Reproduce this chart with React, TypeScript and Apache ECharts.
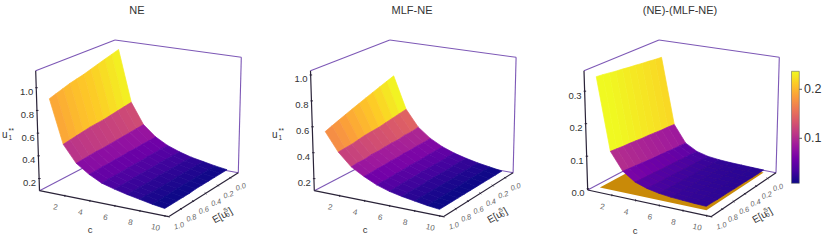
import React, { useEffect, useRef } from "react";
import * as echarts from "echarts";

const cValues = [1, 2, 3, 4, 5, 6, 7, 8, 9, 10];
const eValues = [0, 0.1, 0.2, 0.3, 0.4, 0.5, 0.6, 0.7, 0.8, 0.9, 1];
const cTicks = [2, 4, 6, 8, 10];
const eTicks = [0, 0.2, 0.4, 0.6, 0.8, 1];
const neTicks = [0.2, 0.4, 0.6, 0.8, 1.0];
const mlfTicks = [0.2, 0.4, 0.6, 0.8, 1.0];
const diffTicks = [0, 0.1, 0.2, 0.3];
const barTicks = [0.1, 0.2];

// rows: c = 1..10, columns: E[u] = 0, 0.1, ... 1
const neSurface = [
  [1.11, 1.09, 1.07, 1.05, 1.03, 1.01, 0.995, 0.98, 0.96, 0.94, 0.92],
  [0.63, 0.62, 0.61, 0.6, 0.59, 0.585, 0.58, 0.57, 0.56, 0.55, 0.54],
  [0.44, 0.435, 0.43, 0.425, 0.42, 0.415, 0.41, 0.41, 0.405, 0.4, 0.395],
  [0.345, 0.34, 0.34, 0.335, 0.335, 0.33, 0.33, 0.325, 0.325, 0.32, 0.32],
  [0.285, 0.285, 0.28, 0.28, 0.275, 0.275, 0.275, 0.27, 0.27, 0.27, 0.265],
  [0.245, 0.245, 0.245, 0.245, 0.24, 0.24, 0.24, 0.24, 0.235, 0.235, 0.235],
  [0.215, 0.215, 0.215, 0.215, 0.215, 0.215, 0.21, 0.21, 0.21, 0.21, 0.21],
  [0.195, 0.195, 0.195, 0.195, 0.195, 0.19, 0.19, 0.19, 0.19, 0.19, 0.19],
  [0.175, 0.175, 0.175, 0.175, 0.175, 0.175, 0.175, 0.17, 0.17, 0.17, 0.17],
  [0.16, 0.16, 0.16, 0.16, 0.16, 0.16, 0.155, 0.155, 0.155, 0.155, 0.155],
];
const mlfSurface = [
  [0.78, 0.76, 0.74, 0.72, 0.7, 0.68, 0.66, 0.64, 0.62, 0.6, 0.58],
  [0.52, 0.51, 0.5, 0.49, 0.48, 0.475, 0.47, 0.46, 0.45, 0.445, 0.44],
  [0.39, 0.38, 0.38, 0.37, 0.37, 0.365, 0.36, 0.36, 0.35, 0.35, 0.345],
  [0.315, 0.31, 0.31, 0.305, 0.305, 0.3, 0.3, 0.295, 0.295, 0.29, 0.29],
  [0.265, 0.26, 0.26, 0.255, 0.255, 0.255, 0.25, 0.25, 0.245, 0.245, 0.245],
  [0.23, 0.23, 0.225, 0.225, 0.225, 0.225, 0.22, 0.22, 0.22, 0.215, 0.215],
  [0.205, 0.205, 0.205, 0.2, 0.2, 0.2, 0.2, 0.195, 0.195, 0.195, 0.195],
  [0.185, 0.185, 0.185, 0.185, 0.18, 0.18, 0.18, 0.18, 0.18, 0.18, 0.18],
  [0.17, 0.17, 0.17, 0.17, 0.17, 0.165, 0.165, 0.165, 0.165, 0.165, 0.165],
  [0.155, 0.155, 0.155, 0.155, 0.155, 0.155, 0.155, 0.155, 0.155, 0.155, 0.155],
];
const diffSurface = [
  [0.325, 0.327, 0.33, 0.332, 0.335, 0.337, 0.34, 0.342, 0.345, 0.348, 0.35],
  [0.112, 0.114, 0.115, 0.117, 0.119, 0.12, 0.122, 0.124, 0.125, 0.127, 0.129],
  [0.058, 0.06, 0.061, 0.063, 0.065, 0.066, 0.068, 0.07, 0.072, 0.074, 0.076],
  [0.038, 0.039, 0.04, 0.042, 0.043, 0.044, 0.045, 0.047, 0.048, 0.049, 0.051],
  [0.029, 0.03, 0.031, 0.032, 0.033, 0.034, 0.035, 0.036, 0.037, 0.038, 0.039],
  [0.025, 0.025, 0.026, 0.027, 0.027, 0.028, 0.029, 0.029, 0.03, 0.031, 0.032],
  [0.023, 0.023, 0.024, 0.024, 0.025, 0.025, 0.026, 0.026, 0.027, 0.027, 0.028],
  [0.022, 0.022, 0.022, 0.023, 0.023, 0.024, 0.024, 0.025, 0.025, 0.025, 0.026],
  [0.021, 0.021, 0.021, 0.022, 0.022, 0.022, 0.023, 0.023, 0.024, 0.024, 0.024],
  [0.02, 0.02, 0.02, 0.021, 0.021, 0.021, 0.022, 0.022, 0.022, 0.023, 0.023],
];
const floorLevel = 0.012;

const PLASMA = ["#0d0887", "#46039f", "#7201a8", "#9c179e", "#bd3786", "#d8576b", "#ed7953", "#fb9f3a", "#fdca26", "#f0f921"];
const FONT = "'Liberation Sans', Arial, sans-serif";
const PURPLE = "#7d58b6";
const DARK = "#2a2338";

type P = [number, number];
type Panel = {
  title: string; titleX: number; values: number[][]; zTicks: number[];
  zMin: number; zMax: number; cMin: number; cMax: number; eMin: number; eMax: number;
  cLo: number; cHi: number;
  // corners, bottom then top; L: c low E high, F: c high E high, R: c high E low, B: c low E low
  bL: P; bF: P; bR: P; bB: P; tL: P; tF: P; tR: P; tB: P;
  uX: number; uY: number; cLabel: P; eLabel: P;
};

const shift = (p: P, dx: number): P => [p[0] + dx, p[1]];
const base = {
  bL: [39.5, 190.7] as P, bF: [168.5, 216.7] as P, bR: [238.3, 172.7] as P, bB: [116.5, 150.4] as P,
  tL: [35.7, 70.7] as P, tF: [164, 88] as P, tR: [241.3, 57.3] as P, tB: [115, 40] as P,
};
const panels: Panel[] = [
  {
    title: "NE", titleX: 137, values: neSurface, zTicks: neTicks, zMin: 0.093, zMax: 1.15,
    cMin: -0.03, cMax: 10.28, eMin: -0.13, eMax: 1.0, cLo: 0.16, cHi: 0.88, ...base,
    uX: 2, uY: 134, cLabel: [90, 229], eLabel: [213, 220.5],
  },
  {
    title: "MLF-NE", titleX: 412, values: mlfSurface, zTicks: mlfTicks, zMin: 0.107, zMax: 1.033,
    cMin: -0.03, cMax: 10.28, eMin: -0.13, eMax: 1.0, cLo: 0.16, cHi: 0.65,
    bL: shift(base.bL, 274.8), bF: shift(base.bF, 274.8), bR: shift(base.bR, 274.8), bB: shift(base.bB, 274.8),
    tL: shift(base.tL, 274.8), tF: shift(base.tF, 274.8), tR: shift(base.tR, 274.8), tB: shift(base.tB, 274.8),
    uX: 272, uY: 134, cLabel: [365, 229], eLabel: [488, 220.5],
  },
  {
    title: "(NE)-(MLF-NE)", titleX: 680, values: diffSurface, zTicks: diffTicks, zMin: -0.004, zMax: 0.363,
    cMin: -0.04, cMax: 10.36, eMin: -0.15, eMax: 1.0, cLo: 0.0082, cHi: 0.2367,
    bL: [587.7, 190], bF: [711, 216.7], bR: [776, 172.7], bB: [662, 150.4],
    tL: [584, 70.7], tF: [705, 88], tR: [779.3, 57.3], tB: [659, 40],
    uX: -100, uY: 134, cLabel: [635, 230], eLabel: [753, 220.5],
  },
];

const lerp = (a: number, b: number, t: number) => a + (b - a) * t;
const lerpP = (a: P, b: P, t: number): P => [lerp(a[0], b[0], t), lerp(a[1], b[1], t)];

function project(p: Panel, c: number, e: number, z: number): P {
  const tc = (c - p.cMin) / (p.cMax - p.cMin);
  const te = (e - p.eMin) / (p.eMax - p.eMin);
  const tz = (z - p.zMin) / (p.zMax - p.zMin);
  // te = 0 is the back, tc = 0 the left side
  const low = lerpP(lerpP(p.bB, p.bL, te), lerpP(p.bR, p.bF, te), tc);
  const high = lerpP(lerpP(p.tB, p.tL, te), lerpP(p.tR, p.tF, te), tc);
  return lerpP(low, high, tz);
}

function plasmaAt(t: number): string {
  const v = Math.max(0, Math.min(1, t)) * (PLASMA.length - 1);
  const i = Math.min(PLASMA.length - 2, Math.floor(v));
  const f = v - i;
  const hex = (s: string, k: number) => parseInt(s.slice(1 + 2 * k, 3 + 2 * k), 16);
  const ch = (k: number) => Math.round(lerp(hex(PLASMA[i], k), hex(PLASMA[i + 1], k), f));
  return `rgb(${ch(0)},${ch(1)},${ch(2)})`;
}

function surfaceSeries(p: Panel, gridIndex: number) {
  const rows: number[][] = [];
  for (let i = 0; i < cValues.length - 1; i++) {
    for (let j = 0; j < eValues.length - 1; j++) {
      rows.push([cValues[i], eValues[j], cValues[i + 1], eValues[j + 1],
        p.values[i][j], p.values[i][j + 1], p.values[i + 1][j], p.values[i + 1][j + 1]]);
    }
  }
  return {
    type: "custom", coordinateSystem: "cartesian2d", xAxisIndex: gridIndex, yAxisIndex: gridIndex,
    clip: false, silent: true, z: 3, data: rows, encode: { x: 0, y: 1 },
    renderItem: (_: any, api: any) => {
      const c0 = api.value(0), e0 = api.value(1), c1 = api.value(2), e1 = api.value(3);
      const a = api.value(4), b = api.value(5), d = api.value(6), f = api.value(7);
      const pts = [project(p, c0, e0, a), project(p, c0, e1, b), project(p, c1, e1, f), project(p, c1, e0, d)].map((q) => api.coord(q));
      const col = plasmaAt(((a + b + d + f) / 4 - p.cLo) / (p.cHi - p.cLo));
      return { type: "polygon", shape: { points: pts }, style: { fill: col, stroke: col, lineWidth: 0.7 } };
    },
  };
}

function floorSeries(p: Panel) {
  return {
    type: "custom", coordinateSystem: "cartesian2d", clip: false, silent: true, z: 2,
    data: [[cValues[0], eValues[0], cValues[cValues.length - 1], eValues[eValues.length - 1], floorLevel]],
    encode: { x: 0, y: 1 },
    renderItem: (_: any, api: any) => {
      const c0 = api.value(0), e0 = api.value(1), c1 = api.value(2), e1 = api.value(3), z = api.value(4);
      const pts = [project(p, c0, e0, z), project(p, c0, e1, z), project(p, c1, e1, z), project(p, c1, e0, z)].map((q) => api.coord(q));
      return { type: "polygon", shape: { points: pts }, style: { fill: "#c98a08" } };
    },
  };
}

function frameSeries(p: Panel) {
  return {
    type: "custom", coordinateSystem: "cartesian2d", clip: false, silent: true, z: 1, data: [[0, 0]],
    encode: { x: 0, y: 1 },
    renderItem: (_: any, api: any) => {
      const seg = (a: P, b: P, stroke: string, w = 1.1) => {
        const A = api.coord(a), B = api.coord(b);
        return { type: "line", shape: { x1: A[0], y1: A[1], x2: B[0], y2: B[1] }, style: { stroke, lineWidth: w } };
      };
      const children: any[] = [
        seg(p.tL, p.tB, PURPLE), seg(p.tB, p.tR, PURPLE), seg(p.tR, p.bR, PURPLE),
        seg(p.bL, p.bB, PURPLE), seg(p.bB, p.bR, PURPLE),
        seg(p.bL, p.tL, DARK, 1.2), seg(p.bL, p.bF, DARK, 1.2), seg(p.bF, p.bR, DARK, 1.2),
      ];
      for (const z of p.zTicks) {
        const t = lerpP(p.bL, p.tL, (z - p.zMin) / (p.zMax - p.zMin));
        children.push(seg([t[0] - 1, t[1]], [t[0] + 1.5, t[1]], DARK, 1));
        const l = api.coord([t[0] - 3, t[1] + 4]);
        children.push({ type: "text", style: { text: z.toFixed(1), x: l[0], y: l[1], fontSize: 9.5, fontFamily: FONT, fill: "#333", align: "right", verticalAlign: "middle" } });
      }
      for (const c of cTicks) {
        const t = project(p, c, p.eMax, p.zMin);
        children.push(seg([t[0], t[1] - 1], [t[0], t[1] + 1], DARK, 1));
        children.push({
          type: "text", x: t[0] - 9.5, y: t[1] + 11.5, rotation: -0.2,
          style: { text: String(c), x: 0, y: 0, fontSize: 8, fontFamily: FONT, fill: "#666", align: "center", verticalAlign: "middle" },
        });
      }
      for (const e of eTicks) {
        const t = project(p, p.cMax, e, p.zMin);
        children.push(seg([t[0] - 0.8, t[1] - 0.8], [t[0] + 0.8, t[1] + 0.8], DARK, 1));
        children.push({
          type: "text", x: t[0] + 10.5, y: t[1] + 9, rotation: 0.3,
          style: { text: e.toFixed(1), x: 0, y: 0, fontSize: 7.4, fontStyle: "italic", fontFamily: FONT, fill: "#666", align: "center", verticalAlign: "middle" },
        });
      }
      const txt = (text: string, x: number, y: number, size: number, fill = "#333") => ({
        type: "text", style: { text, x, y, fontSize: size, fontFamily: FONT, fill, align: "left", verticalAlign: "middle" },
      });
      if (p.uX > 0) {
        children.push(txt("u", p.uX, p.uY, 10), txt("1", p.uX + 6.5, p.uY + 3.5, 6.5), txt("**", p.uX + 6.5, p.uY - 3.5, 7));
      }
      children.push({ type: "text", style: { text: "c", x: p.cLabel[0], y: p.cLabel[1], fontSize: 9.5, fontFamily: FONT, fill: "#333", align: "center", verticalAlign: "middle" } });
      children.push({
        type: "group", x: p.eLabel[0], y: p.eLabel[1], rotation: 0.52,
        children: [txt("E[u", 0, 0, 10), txt("0", 14, 2.5, 6), txt("S", 14, -2.8, 6), txt("]", 18.5, 0, 10)],
      });
      return { type: "group", children };
    },
  };
}

export default function App() {
  const ref = useRef<HTMLDivElement>(null);
  useEffect(() => {
    const chart = echarts.init(ref.current!, null, { renderer: "svg" });
    const series: any[] = [];
    panels.forEach((p, i) => {
      series.push(frameSeries(p));
      if (i === 2) series.push(floorSeries(p));
      series.push(surfaceSeries(p, 0));
    });
    const barTop = 71.3, barBottom = 183.3, barLo = panels[2].cLo, barHi = panels[2].cHi;
    const barY = (v: number) => lerp(barBottom, barTop, (v - barLo) / (barHi - barLo));
    const stops = PLASMA.slice().reverse().map((color, k) => ({ offset: k / (PLASMA.length - 1), color }));
    chart.setOption({
      animation: false,
      backgroundColor: "#fff",
      title: panels.map((p) => ({
        text: p.title, left: p.titleX, top: 4, textAlign: "center", padding: 0,
        textStyle: { fontSize: 11, fontWeight: "normal", fontFamily: FONT, color: "#333" },
      })),
      grid: { left: 0, top: 0, width: 830, height: 244 },
      xAxis: { type: "value", min: 0, max: 830, show: false },
      yAxis: { type: "value", min: 0, max: 244, inverse: true, show: false },
      series,
      graphic: [
        {
          type: "rect", shape: { x: 791.5, y: barTop, width: 7.8, height: barBottom - barTop }, z: 10,
          style: { fill: new echarts.graphic.LinearGradient(0, 0, 0, 1, stops), stroke: "#6a6a6a", lineWidth: 0.6 },
        },
        ...barTicks.flatMap((v) => [
          { type: "line", z: 10, shape: { x1: 799.3, y1: barY(v), x2: 802, y2: barY(v) }, style: { stroke: "#333", lineWidth: 0.8 } },
          { type: "text", z: 10, style: { text: v.toFixed(1), x: 804, y: barY(v), fontSize: 12.5, fontFamily: FONT, fill: "#333", verticalAlign: "middle" } },
        ]),
      ],
    });
    return () => chart.dispose();
  }, []);
  return <div ref={ref} style={{ position: "absolute", left: 0, top: 0, width: 830, height: 244 }} />;
}
